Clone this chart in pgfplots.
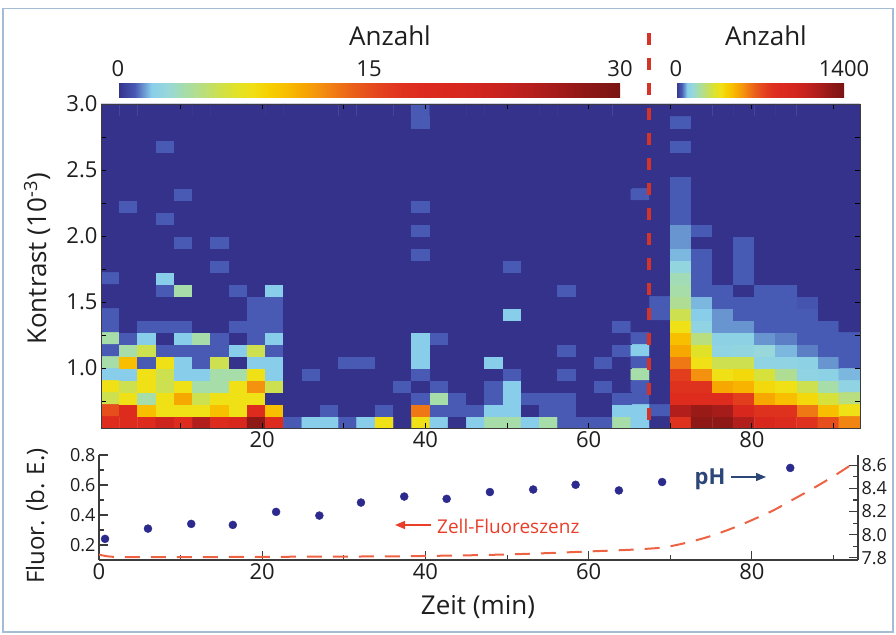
\documentclass[border=0pt]{standalone}
\usepackage{pgfplots}
\pgfplotsset{compat=1.18}
\usepackage{fontspec}
\setmainfont{Open Sans}
\usetikzlibrary{arrows.meta}

\definecolor{dotblue}{RGB}{44,42,140}
\definecolor{flred}{RGB}{238,98,68}
\definecolor{sepred}{RGB}{212,52,40}
\definecolor{phblue}{RGB}{44,70,120}
\definecolor{zellred}{RGB}{232,62,42}
\definecolor{framebl}{RGB}{165,188,214}
\definecolor{axgray}{RGB}{60,60,60}
\definecolor{txt}{RGB}{30,30,30}

\newcommand{\fs}[1]{\fontsize{#1}{#1}\selectfont}

\pgfplotsset{
  colormap={anz}{rgb255=(52,50,138) rgb255=(72,90,180) rgb255=(136,206,234)
    rgb255=(152,216,218) rgb255=(166,221,168) rgb255=(184,222,128) rgb255=(204,224,80)
    rgb255=(224,226,40) rgb255=(240,224,22) rgb255=(246,208,0) rgb255=(248,190,0)
    rgb255=(247,168,0) rgb255=(244,146,16) rgb255=(240,120,20) rgb255=(234,96,24)
    rgb255=(230,78,28) rgb255=(226,62,30) rgb255=(223,50,30) rgb255=(221,44,30)
    rgb255=(219,42,30) rgb255=(216,40,30) rgb255=(212,38,30) rgb255=(206,36,30)
    rgb255=(198,34,30) rgb255=(188,32,30) rgb255=(178,30,28) rgb255=(166,28,26)
    rgb255=(154,26,24) rgb255=(142,24,22) rgb255=(132,22,22) rgb255=(122,20,20)},
  every axis/.append style={/pgf/number format/assume math mode=true,
    /pgf/number format/1000 sep={}},
  hmap/.style={at={(101pt,206pt)}, anchor=south west, scale only axis,
    width=759pt, height=324pt, xmin=0.245, xmax=93.245, ymin=0.54545, ymax=3.0,
    colormap name=anz},
  cbar/.style={anchor=south west,
    scale only axis, height=17pt, xticklabel pos=upper, major tick length=0pt,
    axis line style={draw=none}, ytick=\empty,
    tick label style={font=\fs{22}, text=txt}},
  bpanel/.style={at={(99pt,74pt)}, anchor=south west, scale only axis,
    width=759pt, height=105pt, xmin=0, xmax=93, tick align=inside,
    major tick length=9pt, minor tick length=5pt,
    axis line style={draw=axgray, line width=1.3pt},
    tick style={draw=axgray, line width=1.1pt}},
}

\begin{document}
\begin{tikzpicture}[x=1pt,y=1pt]
\useasboundingbox (0,0) rectangle (896,634);
\draw[framebl, line width=1.5pt] (3,2) rectangle (893,625.5);
\coordinate (cbL) at (118,545);
\coordinate (cbR) at (676,545);

% right part of the heat map (after 67 min), counts 0..1400; one line per contrast bin, bottom first
\begin{axis}[hmap, axis line style={draw=none}, xtick=\empty, ytick=\empty,
  point meta min=0, point meta max=1400,
  colorbar horizontal,
  colorbar style={cbar, at={(cbR)}, width=168pt, xtick={0,1400}}]
\addplot[matrix plot*, mesh/cols=10, point meta=explicit]
  table[row sep=\\, header=false, meta index=0,
    x expr={68.683+2.5855*(\coordindex-10*floor((\coordindex+0.5)/10))},
    y expr={0.59095+0.090909*floor((\coordindex+0.5)/10)}] {
0\\793\\1307\\1307\\1167\\933\\887\\793\\700\\583\\
47\\1167\\1260\\1213\\933\\793\\793\\607\\467\\373\\
0\\840\\840\\840\\747\\513\\467\\397\\303\\233\\
0\\793\\793\\513\\490\\397\\373\\280\\187\\117\\
0\\747\\560\\373\\397\\303\\210\\117\\107\\84\\
0\\607\\373\\280\\280\\117\\117\\107\\70\\47\\
0\\513\\327\\117\\126\\140\\84\\61\\47\\47\\
0\\467\\233\\107\\107\\70\\61\\47\\47\\47\\
0\\373\\117\\70\\70\\47\\47\\47\\47\\0\\
47\\280\\93\\70\\47\\47\\47\\47\\0\\0\\
47\\210\\84\\47\\47\\47\\47\\40\\0\\0\\
0\\187\\47\\47\\0\\47\\47\\0\\0\\0\\
0\\173\\47\\0\\47\\0\\0\\0\\0\\0\\
0\\126\\47\\0\\47\\0\\0\\0\\0\\0\\
0\\84\\47\\0\\47\\0\\0\\0\\0\\0\\
0\\70\\0\\0\\47\\0\\0\\0\\0\\0\\
0\\70\\47\\0\\0\\0\\0\\0\\0\\0\\
0\\47\\0\\0\\0\\0\\0\\0\\0\\0\\
0\\47\\0\\0\\0\\0\\0\\0\\0\\0\\
0\\47\\0\\0\\0\\0\\0\\0\\0\\0\\
0\\47\\0\\0\\0\\0\\0\\0\\0\\0\\
0\\0\\0\\0\\0\\0\\0\\0\\0\\0\\
0\\0\\0\\0\\0\\0\\0\\0\\0\\0\\
0\\47\\0\\0\\0\\0\\0\\0\\0\\0\\
0\\0\\0\\0\\0\\0\\0\\0\\0\\0\\
0\\47\\0\\0\\0\\0\\0\\0\\0\\0\\
0\\0\\0\\0\\0\\0\\0\\0\\0\\0\\
};
\end{axis}

% left part of the heat map, counts 0..30, with the frame and ticks
\begin{axis}[hmap, axis on top, tick align=inside,
  point meta min=0, point meta max=30,
  xtick={20,40,60,80}, minor xtick={10,30,50,70,90},
  ytick={1,1.5,2,2.5,3}, minor ytick={0.75,1.25,1.75,2.25,2.75},
  major tick length=5pt, minor tick length=5pt,
  axis line style={draw=axgray, line width=0.8pt},
  tick style={draw=black, line width=0.9pt},
  tick label style={font=\fs{22}, text=txt},
  yticklabel style={/pgf/number format/.cd, fixed, fixed zerofill, precision=1},
  colorbar horizontal,
  colorbar style={cbar, at={(cbL)}, width=502pt, xtick={0,15,30}}]
\addplot[matrix plot*, mesh/cols=30, point meta=explicit]
  table[row sep=\\, header=false, meta index=0,
    x expr={1.364+2.2383*(\coordindex-30*floor((\coordindex+0.5)/30))},
    y expr={0.59095+0.090909*floor((\coordindex+0.5)/30)}] {
18\\18\\18\\22\\18\\25\\18\\20\\28\\18\\1\\2\\2\\1\\2\\8\\0\\8\\2\\0\\2\\4\\4\\2\\4\\1\\1\\1\\4\\2\\
15\\18\\10\\8\\8\\8\\10\\8\\18\\10\\0\\0\\1\\0\\0\\1\\0\\13\\1\\1\\1\\2\\2\\0\\1\\1\\0\\0\\2\\2\\
6\\8\\4\\8\\11\\6\\8\\8\\8\\0\\0\\0\\0\\0\\0\\0\\0\\1\\4\\1\\0\\1\\2\\1\\1\\1\\0\\0\\1\\1\\
8\\6\\8\\6\\8\\4\\4\\8\\12\\6\\0\\0\\0\\0\\0\\0\\1\\0\\1\\0\\0\\1\\2\\0\\0\\0\\0\\1\\0\\1\\
2\\2\\8\\6\\2\\2\\4\\4\\8\\2\\0\\1\\0\\0\\0\\0\\0\\1\\0\\0\\0\\0\\1\\0\\0\\1\\0\\0\\0\\4\\
4\\10\\1\\8\\2\\1\\6\\0\\2\\2\\0\\0\\0\\1\\1\\0\\0\\2\\0\\0\\0\\2\\0\\0\\0\\0\\0\\1\\0\\1\\
1\\4\\6\\1\\1\\1\\1\\2\\6\\1\\0\\0\\0\\0\\0\\0\\0\\2\\0\\0\\0\\0\\0\\0\\0\\1\\0\\0\\1\\2\\
4\\1\\2\\0\\2\\4\\1\\0\\1\\2\\0\\0\\0\\0\\0\\0\\0\\2\\1\\0\\0\\0\\0\\0\\0\\0\\0\\0\\0\\1\\
1\\0\\1\\1\\1\\0\\0\\1\\1\\1\\0\\0\\0\\0\\0\\0\\0\\0\\0\\0\\0\\0\\0\\0\\0\\0\\0\\0\\1\\0\\
1\\0\\0\\0\\0\\0\\0\\0\\1\\1\\0\\0\\0\\0\\0\\0\\0\\0\\0\\0\\0\\0\\2\\0\\0\\0\\0\\0\\0\\0\\
0\\0\\0\\0\\0\\0\\0\\0\\1\\1\\0\\0\\0\\0\\0\\0\\0\\0\\0\\0\\0\\0\\0\\0\\0\\0\\0\\0\\0\\0\\
0\\0\\0\\1\\4\\0\\0\\1\\0\\2\\0\\0\\0\\0\\0\\0\\0\\0\\0\\0\\0\\0\\0\\0\\0\\1\\0\\0\\0\\0\\
1\\0\\0\\2\\0\\0\\0\\0\\0\\0\\0\\0\\0\\0\\0\\0\\0\\0\\0\\0\\0\\0\\0\\0\\0\\0\\0\\0\\0\\0\\
0\\0\\0\\0\\0\\0\\1\\0\\0\\0\\0\\0\\0\\0\\0\\0\\0\\0\\0\\0\\0\\0\\1\\0\\0\\0\\0\\0\\0\\0\\
0\\0\\0\\0\\0\\0\\0\\0\\0\\0\\0\\0\\0\\0\\0\\0\\0\\1\\0\\0\\0\\0\\0\\0\\0\\0\\0\\0\\0\\0\\
0\\0\\0\\0\\1\\0\\1\\0\\0\\0\\0\\0\\0\\0\\0\\0\\0\\0\\0\\0\\0\\0\\0\\0\\0\\0\\0\\0\\0\\0\\
0\\0\\0\\0\\0\\0\\0\\0\\0\\0\\0\\0\\0\\0\\0\\0\\0\\1\\0\\0\\0\\0\\0\\0\\0\\0\\0\\0\\0\\0\\
0\\0\\0\\1\\0\\0\\0\\0\\0\\0\\0\\0\\0\\0\\0\\0\\0\\0\\0\\0\\0\\0\\0\\0\\0\\0\\0\\0\\0\\0\\
0\\1\\0\\0\\0\\0\\0\\0\\0\\0\\0\\0\\0\\0\\0\\0\\0\\1\\0\\0\\0\\0\\0\\0\\0\\0\\0\\0\\0\\0\\
0\\0\\0\\0\\1\\0\\0\\0\\0\\0\\0\\0\\0\\0\\0\\0\\0\\0\\0\\0\\0\\0\\0\\0\\0\\0\\0\\0\\0\\1\\
0\\0\\0\\0\\0\\0\\0\\0\\0\\0\\0\\0\\0\\0\\0\\0\\0\\0\\0\\0\\0\\0\\0\\0\\0\\0\\0\\0\\0\\0\\
0\\0\\0\\0\\0\\0\\0\\0\\0\\0\\0\\0\\0\\0\\0\\0\\0\\0\\0\\0\\0\\0\\0\\0\\0\\0\\0\\0\\0\\0\\
0\\0\\0\\0\\0\\0\\0\\0\\0\\0\\0\\0\\0\\0\\0\\0\\0\\0\\0\\0\\0\\0\\0\\0\\0\\0\\0\\0\\0\\0\\
0\\0\\0\\1\\0\\0\\0\\0\\0\\0\\0\\0\\0\\0\\0\\0\\0\\0\\0\\0\\0\\0\\0\\0\\0\\0\\0\\0\\0\\0\\
0\\0\\0\\0\\0\\0\\0\\0\\0\\0\\0\\0\\0\\0\\0\\0\\0\\0\\0\\0\\0\\0\\0\\0\\0\\0\\0\\0\\0\\0\\
0\\0\\0\\0\\0\\0\\0\\0\\0\\0\\0\\0\\0\\0\\0\\0\\0\\1\\0\\0\\0\\0\\0\\0\\0\\0\\0\\0\\0\\0\\
0\\0\\0\\0\\0\\0\\0\\0\\0\\0\\0\\0\\0\\0\\0\\0\\0\\1\\0\\0\\0\\0\\0\\0\\0\\0\\0\\0\\0\\0\\
};
\end{axis}

% bottom panel: cell fluorescence (left axis)
\begin{axis}[bpanel, ymin=0.1, ymax=0.8,
  axis x line*=bottom, axis y line*=left,
  xtick={0,20,40,60,80}, minor xtick={10,30,50,70,90},
  ytick={0.2,0.4,0.6,0.8}, minor ytick={0.3,0.5,0.7},
  xticklabel style={font=\fs{22}, text=txt},
  yticklabel style={font=\fs{18}, text=txt,
    /pgf/number format/.cd, fixed, fixed zerofill, precision=1}]
\addplot[flred, line width=2pt, dash pattern=on 15pt off 11pt, smooth] coordinates {
(0,0.136) (1.5,0.122) (5,0.119) (10,0.119) (15,0.120) (20,0.121) (25,0.122)
(30,0.123) (35,0.124) (40,0.127) (45,0.131) (50,0.137) (55,0.146) (60,0.157)
(65,0.168) (68.7,0.181) (70.5,0.197) (72.5,0.222) (74.5,0.252) (76.5,0.289)
(78.5,0.331) (80.5,0.378) (82.6,0.430) (84.6,0.490) (86.7,0.553) (88.8,0.619)
(90.8,0.686) (93,0.765)};
\end{axis}

% bottom panel: pH (right axis)
\begin{axis}[bpanel, ymin=7.78, ymax=8.69,
  axis x line=none, axis y line*=right,
  ytick={7.8,8.0,8.2,8.4,8.6}, minor ytick={7.9,8.1,8.3,8.5},
  yticklabel style={font=\fs{18}, text=txt,
    /pgf/number format/.cd, fixed, fixed zerofill, precision=1}]
\addplot[only marks, mark=*, mark size=4pt, color=dotblue] coordinates {
(0.74,7.963) (6.0,8.052) (11.3,8.093) (16.4,8.084) (21.7,8.197) (27.0,8.165)
(32.1,8.278) (37.4,8.330) (42.6,8.310) (47.9,8.369) (53.2,8.391) (58.4,8.432)
(63.7,8.383) (69.0,8.456) (84.7,8.578)};
\end{axis}

% separator between the two colour scales
\draw[sepred, line width=3.5pt, dash pattern=on 12pt off 13pt] (649,601) -- (649,206);

% titles, labels, notes
\node[font=\fs{26}, text=txt] at (390,598) {Anzahl};
\node[font=\fs{26}, text=txt] at (766,598) {Anzahl};
\node[rotate=90, font=\fs{26}, text=txt] at (37,375) {Kontrast (10\textsuperscript{-3})};
\node[rotate=90, font=\fs{24}, text=txt] at (37,118) {Fluor. (b. E.)};
\node[font=\fs{26}, text=txt] at (478,27) {Zeit (min)};
\node[font=\bfseries\fs{22}, text=phblue] at (710,155) {pH};
\draw[phblue, line width=1.2pt, -{Triangle[length=10pt,width=8pt]}] (731,157) -- (766,157);
\node[anchor=west, inner sep=0pt, font=\fs{19}, text=zellred] at (437,108) {Zell-Fluoreszenz};
\draw[zellred, line width=1.2pt, -{Triangle[length=10pt,width=8pt]}] (431,109) -- (395,109);
\end{tikzpicture}
\end{document}
